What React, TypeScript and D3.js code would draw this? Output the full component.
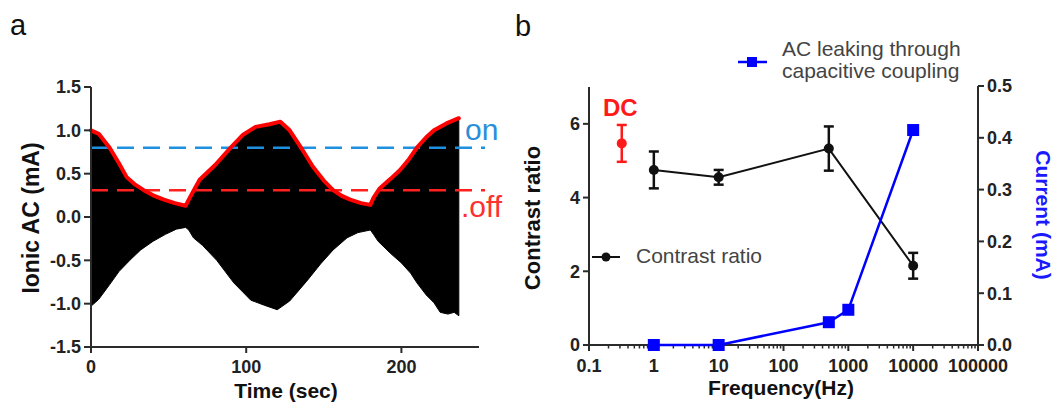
import React from 'react';
import * as d3 from 'd3';

// ---------- Panel a data ----------
const timeUpper = [0, 5, 12, 18, 23, 28, 34, 40, 47, 54, 61, 63, 66, 70, 80, 90, 98, 106, 115, 122, 128, 135, 143, 150, 156, 162, 167, 174, 180, 182, 186, 193, 199, 205, 210, 216, 221, 229, 237];
const ionicUpper = [1.0, 0.96, 0.8, 0.62, 0.46, 0.38, 0.31, 0.25, 0.2, 0.16, 0.13, 0.2, 0.3, 0.43, 0.6, 0.8, 0.95, 1.04, 1.07, 1.1, 1.0, 0.81, 0.58, 0.42, 0.31, 0.24, 0.2, 0.16, 0.14, 0.22, 0.33, 0.44, 0.54, 0.67, 0.8, 0.92, 1.0, 1.08, 1.14];
const timeLower = [0, 5, 12, 18, 25, 32, 40, 48, 55, 61, 63, 66, 72, 81, 92, 103, 112, 120, 128, 139, 148, 156, 165, 172, 180, 182, 185, 193, 200, 206, 210, 216, 221, 225, 230, 234, 237];
const ionicLower = [-1.03, -0.95, -0.78, -0.63, -0.5, -0.38, -0.28, -0.2, -0.14, -0.12, -0.15, -0.24, -0.33, -0.5, -0.76, -0.96, -1.02, -1.07, -0.97, -0.74, -0.54, -0.38, -0.24, -0.18, -0.15, -0.2, -0.28, -0.42, -0.53, -0.65, -0.76, -0.9, -0.99, -1.1, -1.12, -1.1, -1.14];
const onThreshold = 0.8;
const offThreshold = 0.31;
const ionicTicks = [-1.5, -1.0, -0.5, 0.0, 0.5, 1.0, 1.5];
const timeTicks = [0, 100, 200];

// ---------- Panel b data ----------
const freqCR = [1, 10, 500, 10000];
const contrastRatio = [4.75, 4.55, 5.33, 2.15];
const contrastErr = [0.5, 0.2, 0.6, 0.35];
const dcFreq = [0.32];
const dcRatio = [5.47];
const dcErr = [0.5];
const freqCurrent = [1, 10, 500, 1000, 10000];
const currentMA = [0, 0, 0.044, 0.068, 0.415];
const freqTicks = [0.1, 1, 10, 100, 1000, 10000, 100000];
const freqTickLabels = ['0.1', '1', '10', '100', '1000', '10000', '100000'];
const ratioTicks = [0, 2, 4, 6];
const currentTicks = [0, 0.1, 0.2, 0.3, 0.4, 0.5];

const FONT = "'Liberation Sans', Arial, Helvetica, sans-serif";
const AX = '#2b2b2b';
const BLUE = '#0000ff';
const RED = '#ff0000';

export default function App() {
  const xa = d3.scaleLinear().domain([0, 250]).range([91, 479]);
  const ya = d3.scaleLinear().domain([-1.5, 1.5]).range([347, 87]);
  const xb = d3.scaleLog().domain([0.1, 100000]).range([589, 978]);
  const yl = d3.scaleLinear().domain([0, 7]).range([345, 87]);
  const yr = d3.scaleLinear().domain([0, 0.5]).range([345, 86]);

  const upperPts: [number, number][] = timeUpper.map((t, i) => [xa(t), ya(ionicUpper[i])]);
  const lowerPts: [number, number][] = timeLower.map((t, i) => [xa(t), ya(ionicLower[i])]);
  const envelope = d3.line()([...upperPts, ...lowerPts.slice().reverse()]) + 'Z';
  const redLine = d3.line()(upperPts) || '';

  const crLine = d3.line<number>().x((f) => xb(f)).y((_, i) => yl(contrastRatio[i]))(freqCR) || '';
  const curLine = d3.line<number>().x((f) => xb(f)).y((_, i) => yr(currentMA[i]))(freqCurrent) || '';

  const minorTicks: number[] = [];
  for (let d = 0.1; d < 100000; d *= 10) {
    for (let k = 2; k <= 9; k++) minorTicks.push(+(k * d).toPrecision(3));
  }

  const tickStyle = { fontFamily: FONT, fontSize: 18, fontWeight: 700, fill: '#222' } as const;

  return (
    <svg width={1055} height={405} style={{ position: 'absolute', left: 0, top: 0, background: '#fff' }}>
      {/* Panel labels */}
      <text x={10} y={35} fontFamily={FONT} fontSize={29} fill="#111">a</text>
      <text x={515} y={36} fontFamily={FONT} fontSize={29} fill="#111">b</text>

      {/* ---------- Panel a ---------- */}
      <path d={envelope} fill="#000" stroke="#000" strokeWidth={1} />
      <line x1={xa(0)} x2={485} y1={ya(onThreshold)} y2={ya(onThreshold)} stroke="#1f8fe0" strokeWidth={2.5} strokeDasharray="17,9" />
      <line x1={xa(0)} x2={485} y1={ya(offThreshold)} y2={ya(offThreshold)} stroke="#ff2020" strokeWidth={2.5} strokeDasharray="17,9" />
      <path d={redLine} fill="none" stroke={RED} strokeWidth={4} strokeLinejoin="round" strokeLinecap="round" />
      <text x={465} y={140} fontFamily={FONT} fontSize={30} fill="#2a8fd8">on</text>
      <text x={461} y={217} fontFamily={FONT} fontSize={30} fill="#ff3030">.off</text>

      {/* axes a */}
      <line x1={xa(0)} x2={xa(0)} y1={ya(1.5)} y2={ya(-1.5)} stroke={AX} strokeWidth={2} />
      <line x1={xa(0) - 1} x2={xa(250)} y1={ya(-1.5)} y2={ya(-1.5)} stroke={AX} strokeWidth={2} />
      {ionicTicks.map((v) => (
        <g key={'ya' + v}>
          <line x1={xa(0) - 7} x2={xa(0)} y1={ya(v)} y2={ya(v)} stroke={AX} strokeWidth={2} />
          <text x={xa(0) - 10} y={ya(v)} dy="0.35em" textAnchor="end" {...tickStyle}>{v.toFixed(1)}</text>
        </g>
      ))}
      {timeTicks.map((v) => (
        <g key={'xa' + v}>
          <line x1={xa(v)} x2={xa(v)} y1={ya(-1.5)} y2={ya(-1.5) + 6} stroke={AX} strokeWidth={2} />
          <text x={xa(v)} y={373} textAnchor="middle" {...tickStyle}>{v}</text>
        </g>
      ))}
      <text x={286} y={398} textAnchor="middle" fontFamily={FONT} fontSize={21} fontWeight={700} fill="#111">Time (sec)</text>
      <text transform={`translate(39,218) rotate(-90)`} textAnchor="middle" fontFamily={FONT} fontSize={23} fontWeight={700} fill="#111">Ionic AC (mA)</text>

      {/* ---------- Panel b ---------- */}
      {/* axes b */}
      <line x1={xb(0.1)} x2={xb(0.1)} y1={yl(7)} y2={yl(0)} stroke={AX} strokeWidth={2} />
      <line x1={xb(100000)} x2={xb(100000)} y1={yr(0.5)} y2={yr(0)} stroke={AX} strokeWidth={2} />
      <line x1={xb(0.1) - 1} x2={xb(100000) + 1} y1={yl(0)} y2={yl(0)} stroke={AX} strokeWidth={2} />
      {ratioTicks.map((v) => (
        <g key={'yl' + v}>
          <line x1={xb(0.1) - 6} x2={xb(0.1)} y1={yl(v)} y2={yl(v)} stroke={AX} strokeWidth={2} />
          <text x={xb(0.1) - 9} y={yl(v)} dy="0.35em" textAnchor="end" {...tickStyle}>{v}</text>
        </g>
      ))}
      {currentTicks.map((v) => (
        <g key={'yr' + v}>
          <line x1={xb(100000)} x2={xb(100000) + 6} y1={yr(v)} y2={yr(v)} stroke={AX} strokeWidth={2} />
          <text x={xb(100000) + 9} y={yr(v)} dy="0.35em" textAnchor="start" {...tickStyle}>{v.toFixed(1)}</text>
        </g>
      ))}
      {freqTicks.map((v, i) => (
        <g key={'xb' + v}>
          <line x1={xb(v)} x2={xb(v)} y1={yl(0)} y2={yl(0) + 6} stroke={AX} strokeWidth={2} />
          <text x={xb(v)} y={372} textAnchor="middle" {...tickStyle}>{freqTickLabels[i]}</text>
        </g>
      ))}
      {minorTicks.map((v) => (
        <line key={'mb' + v} x1={xb(v)} x2={xb(v)} y1={yl(0)} y2={yl(0) + 3.5} stroke={AX} strokeWidth={1.5} />
      ))}
      <text x={781} y={395} textAnchor="middle" fontFamily={FONT} fontSize={21} fontWeight={700} fill="#111">Frequency(Hz)</text>
      <text transform={`translate(540,218) rotate(-90)`} textAnchor="middle" fontFamily={FONT} fontSize={22} fontWeight={700} fill="#111">Contrast ratio</text>
      <text transform={`translate(1036,215) rotate(90)`} textAnchor="middle" fontFamily={FONT} fontSize={21} fontWeight={700} fill="#1a1aff">Current (mA)</text>

      {/* contrast ratio series */}
      <path d={crLine} fill="none" stroke="#111" strokeWidth={2} />
      {freqCR.map((f, i) => (
        <g key={'cr' + f} stroke="#111" strokeWidth={2.5}>
          <line x1={xb(f)} x2={xb(f)} y1={yl(contrastRatio[i] + contrastErr[i])} y2={yl(contrastRatio[i] - contrastErr[i])} />
          <line x1={xb(f) - 5} x2={xb(f) + 5} y1={yl(contrastRatio[i] + contrastErr[i])} y2={yl(contrastRatio[i] + contrastErr[i])} />
          <line x1={xb(f) - 5} x2={xb(f) + 5} y1={yl(contrastRatio[i] - contrastErr[i])} y2={yl(contrastRatio[i] - contrastErr[i])} />
          <circle cx={xb(f)} cy={yl(contrastRatio[i])} r={5} fill="#111" stroke="none" />
        </g>
      ))}

      {/* DC point */}
      {dcFreq.map((f, i) => (
        <g key={'dc' + f} stroke="#ff1a1a" strokeWidth={2.5}>
          <line x1={xb(f)} x2={xb(f)} y1={yl(dcRatio[i] + dcErr[i])} y2={yl(dcRatio[i] - dcErr[i])} />
          <line x1={xb(f) - 5} x2={xb(f) + 5} y1={yl(dcRatio[i] + dcErr[i])} y2={yl(dcRatio[i] + dcErr[i])} />
          <line x1={xb(f) - 5} x2={xb(f) + 5} y1={yl(dcRatio[i] - dcErr[i])} y2={yl(dcRatio[i] - dcErr[i])} />
          <circle cx={xb(f)} cy={yl(dcRatio[i])} r={5} fill="#ff1a1a" stroke="none" />
        </g>
      ))}
      <text x={603} y={116} fontFamily={FONT} fontSize={24} fontWeight={700} fill="#ff1a1a">DC</text>

      {/* current series */}
      <path d={curLine} fill="none" stroke={BLUE} strokeWidth={2.5} />
      {freqCurrent.map((f, i) => (
        <rect key={'cu' + f} x={xb(f) - 6} y={yr(currentMA[i]) - 6} width={12} height={12} fill={BLUE} />
      ))}

      {/* legends */}
      <line x1={592} x2={620} y1={257} y2={257} stroke="#111" strokeWidth={2} />
      <circle cx={606} cy={257} r={4.5} fill="#111" />
      <text x={636} y={263} fontFamily={FONT} fontSize={21} fill="#444">Contrast ratio</text>

      <line x1={738} x2={767} y1={62} y2={62} stroke={BLUE} strokeWidth={2.5} />
      <rect x={747} y={57} width={10} height={10} fill={BLUE} />
      <text x={782} y={56} fontFamily={FONT} fontSize={21} fill="#444">AC leaking through</text>
      <text x={782} y={78} fontFamily={FONT} fontSize={21} fill="#444">capacitive coupling</text>
    </svg>
  );
}
